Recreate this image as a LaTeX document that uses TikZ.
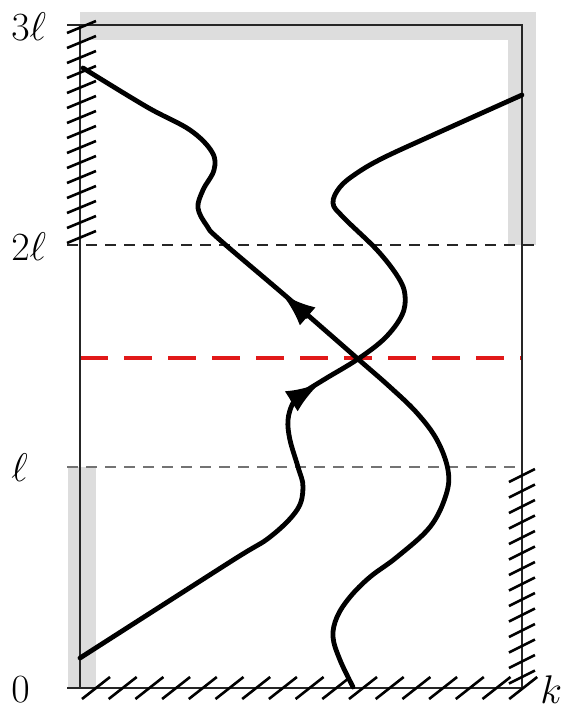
\documentclass[tikz,border=0pt]{standalone}
\usepackage{fix-cm}
\usetikzlibrary{arrows.meta}
\definecolor{band}{RGB}{221,221,221}
\definecolor{redl}{RGB}{225,25,25}
\begin{document}
\begin{tikzpicture}[x=0.5pt,y=-0.5pt,
  frameline/.style={line width=0.8pt,black!85},
  hatchline/.style={line width=1.3pt},
  levelline/.style={line width=1.1pt,dash pattern=on 5.5pt off 4pt},
  redline/.style={line width=2pt,redl,dash pattern=on 14pt off 8pt},
  orbit/.style={line width=2.4pt,line cap=round,line join=round},
  tipmark/.style={line width=2.4pt,-{Latex[length=17pt,width=12pt]}},
  lab/.style={font=\fontsize{20}{24}\selectfont,inner sep=0pt}]
\useasboundingbox (0,0) rectangle (568,708);
% shaded bands
\fill[band] (80,12) rectangle (536,40);
\fill[band] (508,12) rectangle (536,245);
\fill[band] (68,467) rectangle (96,688);
% level lines
\draw[levelline,black!85] (67,245) -- (536,245);
\draw[levelline,black!55] (67,467) -- (522,467);
\draw[redline] (80,358) -- (522,358);
% frame
\draw[frameline] (67,25) -- (522,25) -- (522,688);
\draw[frameline] (80,25) -- (80,688);
\draw[frameline] (67,688) -- (522,688);
% hatching
\foreach \i in {0,...,14} \draw[hatchline] (67,33+15*\i) -- (96,21+15*\i);
\foreach \i in {0,...,13} \draw[hatchline] (509,482+15.5*\i) -- (535,469+15.5*\i);
\foreach \i in {0,...,16} \draw[hatchline] (82+26.7*\i,699) -- (110+26.7*\i,677);
% labels
\node[lab,anchor=west] (l3) at (11,27) {$3\ell$};
\node[lab,anchor=west] (l2) at (11,247) {$2\ell$};
\node[lab,anchor=west] (l1) at (11,468) {$\ell$};
\node[lab,anchor=west] (l0) at (11,690) {$0$};
\node[lab,anchor=west] (lk) at (540,690) {$k$};
% curves
\draw[orbit] plot[smooth,tension=0.6] coordinates {(80,658) (230,562) (270,537) (297,510) (303,487) (298,467) (290,440) (288,420) (293,403) (303,393) (325,379) (358,359) (385,338) (402,315) (405,295) (398,277) (377,250) (343,217) (333,203) (340,187) (357,173) (383,158) (433,135) (522,95)};
\draw[orbit] plot[smooth,tension=0.6] coordinates {(353,687) (340,660) (333,637) (337,617) (350,597) (370,577) (397,557) (430,527) (446,495) (448,470) (437,440) (417,413) (390,387) (358,359) (288,298) (220,240) (207,226) (198,208) (203,190) (214,170) (212,152) (190,130) (147,107) (83,68)};
% arrow heads
\draw[tipmark] (291.3,401.3) -- (320,383);
\draw[tipmark] (308.4,317.0) -- (282,294);
\end{tikzpicture}
\end{document}
